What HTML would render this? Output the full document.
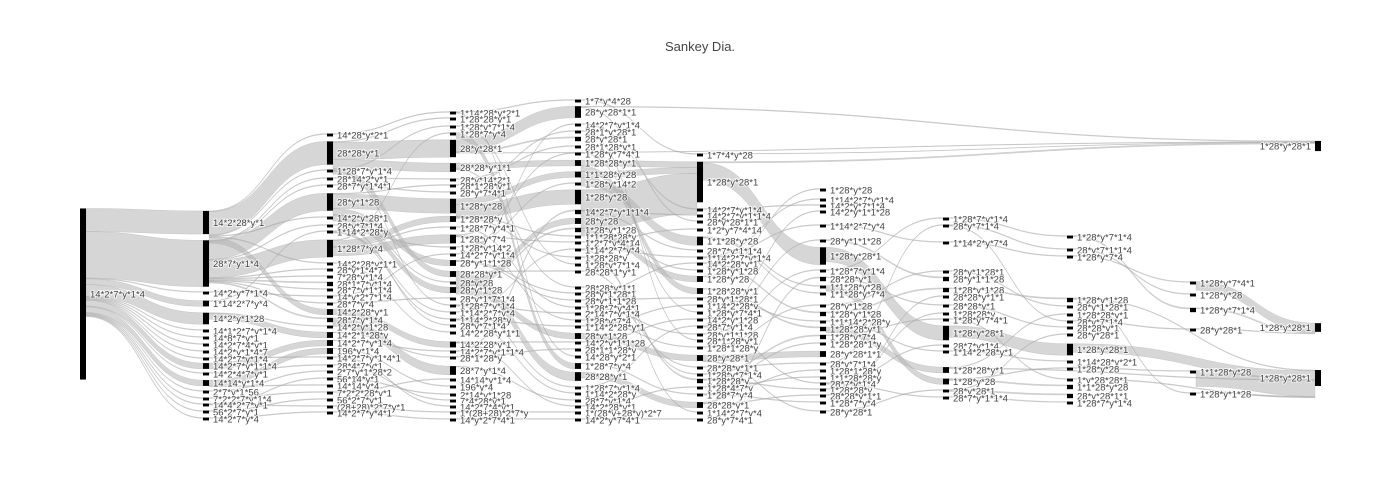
<!DOCTYPE html>
<html><head><meta charset="utf-8"><style>
html,body{margin:0;padding:0;background:#fff;}
svg{display:block;font-family:"Liberation Sans",sans-serif;}
.lbl{font-size:9.5px;fill:#444;paint-order:stroke;stroke:#fff;stroke-width:2px;stroke-opacity:0.7;}
</style></head><body>
<svg id="chart" width="1400" height="500">
<rect width="1400" height="500" fill="#fff"/>
<text x="700" y="51" text-anchor="middle" font-size="13" fill="#444">Sankey Dia.</text>
<g id="links"></g>
<g id="nodes"></g>
</svg>
<script>
const labels0=["14*2*7*y*1*4"];
const labels1=["14*2*28*y*1","28*7*y*1*4","14*2*y*7*1*4","1*14*2*7*y*4","14*2*y*1*28","14*1*2*7*y*1*4","14*8*7*y*1","14*2*7*4*y*1","14*2*y*1*4*7","14*2*7*y*1*4","14*2*7*y*1*1*4","14*2*4*7*y*1","14*14*y*1*4","2*7*y*1*56","7*2*2*7*y*1*4","14*4*2*7*y*1","56*2*7*y*1","14*2*7*y*4"];
const labels2=["14*28*y*2*1","28*28*y*1","1*28*7*y*1*4","28*14*2*y*1","28*7*y*1*4*1","28*y*1*28","14*2*y*28*1","28*y*7*1*4","1*14*2*28*y","1*28*7*y*4","14*2*28*y*1*1","28*y*1*4*7","7*28*y*1*4","28*1*7*y*1*4","28*7*y*1*1*4","14*y*2*7*1*4","28*7*y*4","14*2*28*y*1","28*7*y*1*4","14*2*y*1*28","14*2*1*28*y","14*2*7*y*1*4","196*y*1*4","14*2*7*y*1*4*1","28*4*7*y*1","2*7*y*1*28*2","56*14*y*1","14*14*y*4","7*2*2*28*y*1","56*2*7*y*1","(28+28)*2*7*y*1","14*2*7*y*4*1"];
const labels3=["1*14*28*y*2*1","1*28*28*y*1","1*28*y*7*1*4","1*28*7*y*4","28*y*28*1","28*28*y*1*1","28*y*14*2*1","28*1*28*y*1","28*y*7*4*1","1*28*y*28","1*28*28*y","1*28*7*y*4*1","1*28*y*7*4","1*28*y*14*2","14*2*7*y*1*4","28*y*1*1*28","28*28*y*1","28*y*28","28*y*1*28","28*y*1*7*1*4","1*28*7*y*1*4","1*14*2*7*y*4","1*14*2*28*y","28*y*7*1*4","14*2*28*y*1*1","14*2*28*y*1","14*2*7*y*1*1*4","28*1*28*y","28*7*y*1*4","14*14*y*1*4","196*y*4","2*14*y*1*28","7*4*28*y*1","14*2*7*4*y*1","1*(28+28)*2*7*y","14*y*2*7*4*1"];
const labels4=["1*7*y*4*28","28*y*28*1*1","14*2*7*y*1*4","28*1*y*28*1","28*y*28*1","28*1*28*y*1","1*28*y*7*4*1","1*28*28*y*1","1*1*28*y*28","1*28*y*14*2","1*28*y*28","14*2*7*y*1*1*4","28*y*28","1*28*y*1*28","1*1*28*28*y","1*2*7*y*4*14","1*14*2*7*y*4","1*28*28*y","1*28*y*7*1*4","28*28*1*y*1","28*28*y*1*1","28*y*1*28*1","28*y*1*1*28","1*28*7*y*4*1","2*14*7*y*1*4","1*28*y*7*4","1*14*2*28*y*1","28*y*1*28","14*2*y*1*1*28","28*1*1*28*y","14*28*y*2*1","1*28*7*y*4","28*28*y*1","1*28*7*y*1*4","1*14*2*28*y","28*7*y*1*4","14*2*28*y*1","1*(28*y+28*y)*2*7","14*2*y*7*4*1"];
const labels5=["1*7*4*y*28","1*28*y*28*1","14*2*7*y*1*4","14*2*7*y*1*1*4","28*y*28*1*1","1*2*y*7*4*14","1*1*28*y*28","28*7*y*1*1*4","1*14*2*7*y*1*4","14*2*28*y*1","1*28*y*1*28","1*28*y*28","1*28*28*y*1","28*y*1*28*1","1*14*2*28*y","1*28*y*7*4*1","14*2*y*1*28","28*7*y*1*4","28*y*1*1*28","28*1*28*y*1","1*28*1*28*y","28*y*28*1","28*28*y*1*1","1*28*y*7*1*4","1*28*28*y","1*28*4*7*y","1*28*7*y*4","28*28*y*1","1*14*2*7*y*4","28*y*7*4*1"];
const labels6=["1*28*y*28","1*14*2*7*y*1*4","14*2*y*7*1*4","14*2*y*1*1*28","1*14*2*7*y*4","28*y*1*1*28","1*28*y*28*1","1*28*7*y*1*4","28*28*y*1","1*1*28*y*28","1*1*28*y*7*4","28*y*1*28","1*28*y*1*28","1*1*14*2*28*y","1*28*28*y*1","1*28*y*7*4","1*28*28*1*y","28*y*28*1*1","28*y*7*1*4","1*28*1*28*y","1*1*28*28*y","28*7*y*1*4","1*28*28*y","28*28*y*1*1","1*28*7*y*4","28*y*28*1"];
const labels7=["1*28*7*y*1*4","28*y*7*1*4","1*14*2*y*7*4","28*y*1*28*1","28*y*1*1*28","1*28*y*1*28","28*28*y*1*1","28*28*y*1","1*28*28*y","1*28*y*7*4*1","1*28*y*28*1","28*7*y*1*4","1*14*2*28*y*1","1*28*28*y*1","1*28*y*28","28*y*28*1","28*7*y*1*1*4"];
const labels8=["1*28*y*7*1*4","28*y*7*1*1*4","1*28*y*7*4","1*28*y*1*28","28*y*1*28*1","1*28*28*y*1","28*y*7*1*4","28*28*y*1","28*y*28*1","1*28*y*28*1","1*14*28*y*2*1","1*28*y*28","1*y*28*28*1","1*1*28*y*28","28*y*28*1*1","1*28*7*y*1*4"];
const labels9=["1*28*y*7*4*1","1*28*y*28","1*28*y*7*1*4","28*y*28*1","1*1*28*y*28","1*28*y*1*28"];
const labels10=["1*28*y*28*1","1*28*y*28*1","1*28*y*28*1"];

const values0=[59];
const values1=[8,16,1,2,4,1,1,1,1,1,2,1,2,1,1,1,1,1];
const values2=[1,8,1,1,1,6,1,1,1,6,1,1,1,1.5,1,1,1,2,1.5,1,2,2,2,1,1,1,1,1,1,1,1,1];
const values3=[1,1,1,1,6,3,1,1,1,5,2,1,3,1,1,2,2,1,2,1,1,1,1,1,1,2,1,1,3,1,1,1,1,1,1,1];
const values4=[1,4,1,1,1.5,1,1,2,2,1,5,1.5,2,1.5,1,1,1,1,1,1,1,1,1,1,1,1,1,2,1,1,1,2,3,1,1,1,1,1,1];
const values5=[1,14,1,1,1,1,3,1,1,1,1,2,2,1,1,1,1,1,1,1,1,2,1,1,1.5,1,1,2,1,1];
const values6=[1,1,1,1,1,1,6,1,1.5,1,1,1,1.5,1,1.5,1.5,1,2,1,1,1,1,1,1,1,1];
const values7=[1,1,1,1,1.5,1.5,1,1,1,1,5,1,1,2,2,1,1];
const values8=[1,1,1,1.5,1,1,1,1,1,4,1,1,1,1.5,1.5,1];
const values9=[1,1,1.5,1,1,1];
const values10=[3.5,3,5.5];

const parents0=[-1];
const parents1=[0,0,0,0,0,0,0,0,0,0,0,0,0,0,0,0,0,0];
const parents2=[0,0,0,1,1,1,0,1,3,1,0,1,1,1,1,2,1,0,1,4,4,10,12,9,11,13,15,12,14,16,15,17];
const parents3=[0,1,2,9,1,1,3,5,4,5,9,9,9,8,15,5,1,5,5,16,2,8,8,7,10,17,21,20,18,28,22,26,24,23,30,31];
const parents4=[0,4,14,7,4,6,12,5,9,13,9,26,17,18,10,12,21,10,2,16,5,15,15,11,20,12,22,18,25,27,0,3,16,20,22,28,25,34,35];
const parents5=[0,10,2,11,1,15,8,11,16,21,13,10,7,22,26,6,28,33,23,3,25,27,20,19,17,36,31,32,16,38];
const parents6=[11,8,2,16,8,17,1,18,27,6,6,20,9,13,12,23,24,21,22,26,25,17,24,27,26,21];
const parents7=[7,18,4,11,5,12,23,8,22,15,6,21,13,14,9,25,21];
const parents8=[0,1,2,5,3,13,1,7,15,10,12,14,9,14,15,16];
const parents9=[2,1,0,6,11,3];
const parents10=[-1,0,4];

const extraSource=["5.1","4.1","3.4","5.0","4.8","4.7","8.9","7.13","8.12","9.2","9.3","9.5","8.3"];
const extraTarget=["10.0","10.0","10.0","10.0","5.1","5.1","10.2","10.2","10.2","10.1","10.1","10.2","10.2"];
const extraValue=[1.5,1,0.7,0.5,2,2,3,1,1,1.5,1,1,1];

// layout (node centre y positions), not data
const layoutY=[
[294],
[222.5,263.5,293,303.5,318.5,331,338,345,352,359,366,374,383,392,399,405,412,419],
[135,153,171,179,186,202,218,226,232,248.5,264,270,277,284,290,297,304,312,320,327,335,343,351,358,366,372,379,386,393,400,407,413],
[113,119,127,134,148.5,167.5,180,186,193,206,219,228,239,248,255,263,274,283,290,299,306,313,320,326,333,344.5,352,358,370.5,380,387,395,401,407,413,420],
[101,112,125,132,139,147,154,163,174.5,184,197,212,221,230,237,243,250,258,265,272,288,294,301,308,314,321,327,336,343,350,357,366,376.5,388,394,401,407,413,420],
[155,182,210,216,222,230,241,251,258,264,271,279,291,299,306,313,320,327,335,341,348,358,368,375,381,388,395,405,413,420],
[190,200,206,212,226,241,256,271,279,287,294,306,314,322,329,337,344,354,364,371,378,384,390,396,403,412],
[219,226,243,272,279,290,297,306,314,320,333,346,352,370,381.5,391,398],
[237,250,257,300,307,315,322,328,335,349.5,362,369,380,387,396,403],
[283,295,310,330,372,394],
[146,327.5,378]];
const colX=[80,203,327,450,575,697,820,943,1067,1190,1315];
const K=2.9, NW=6;

const allLabels=[labels0,labels1,labels2,labels3,labels4,labels5,labels6,labels7,labels8,labels9,labels10];
const allValues=[values0,values1,values2,values3,values4,values5,values6,values7,values8,values9,values10];
const allParents=[parents0,parents1,parents2,parents3,parents4,parents5,parents6,parents7,parents8,parents9,parents10];

function linkW(v){return v>=2?v*K:v*0.8;}

const NS="http://www.w3.org/2000/svg";
const nodes={};
allLabels.forEach((labs,c)=>{
  labs.forEach((lab,i)=>{
    const h=Math.max(allValues[c][i]*K,2.5);
    const cy=layoutY[c][i];
    nodes[c+"."+i]={c:c,i:i,x:colX[c],y0:cy-h/2,h:h,cy:cy,out:[],inn:[]};
  });
});
const links=[];
allParents.forEach((ps,c)=>{
  ps.forEach((p,i)=>{
    if(p<0) return;
    links.push({s:(c-1)+"."+p,t:c+"."+i,v:allValues[c][i]});
  });
});
extraSource.forEach((s,j)=>{links.push({s:s,t:extraTarget[j],v:extraValue[j]});});
links.forEach(l=>{nodes[l.s].out.push(l);nodes[l.t].inn.push(l);});
Object.values(nodes).forEach(n=>{
  n.out.sort((a,b)=>nodes[a.t].cy-nodes[b.t].cy);
  let off=n.y0;n.out.forEach(l=>{l.sy=off;off+=linkW(l.v);});
  n.inn.sort((a,b)=>nodes[a.s].cy-nodes[b.s].cy);
  off=n.y0;n.inn.forEach(l=>{l.ty=off;off+=linkW(l.v);});
});
const gL=document.getElementById('links');
links.forEach(l=>{
  const s=nodes[l.s],t=nodes[l.t],w=linkW(l.v);
  const x0=s.x+NW,x1=t.x,xm=(x0+x1)/2;
  const d=`M${x0},${l.sy}C${xm},${l.sy} ${xm},${l.ty} ${x1},${l.ty}L${x1},${l.ty+w}C${xm},${l.ty+w} ${xm},${l.sy+w} ${x0},${l.sy+w}Z`;
  const p=document.createElementNS(NS,'path');
  p.setAttribute('d',d);
  p.setAttribute('fill','rgba(180,180,180,0.55)');
  p.setAttribute('stroke','rgba(150,150,150,0.5)');
  p.setAttribute('stroke-width','0.4');
  
  
  gL.appendChild(p);
});
const gN=document.getElementById('nodes');
Object.values(nodes).forEach(n=>{
  const r=document.createElementNS(NS,'rect');
  r.setAttribute('x',n.x);r.setAttribute('y',n.y0);
  r.setAttribute('width',NW);r.setAttribute('height',n.h);
  r.setAttribute('fill','#000');
  
  
  gN.appendChild(r);
  const tx=document.createElementNS(NS,'text');
  const last=n.c===10;
  tx.setAttribute('x',last?n.x-4:n.x+NW+4);
  tx.setAttribute('y',n.cy+3.3);
  tx.setAttribute('class','lbl');
  if(last) tx.setAttribute('text-anchor','end');
  tx.textContent=allLabels[n.c][n.i];
  
  
  gN.appendChild(tx);
});
</script>
</body></html>
